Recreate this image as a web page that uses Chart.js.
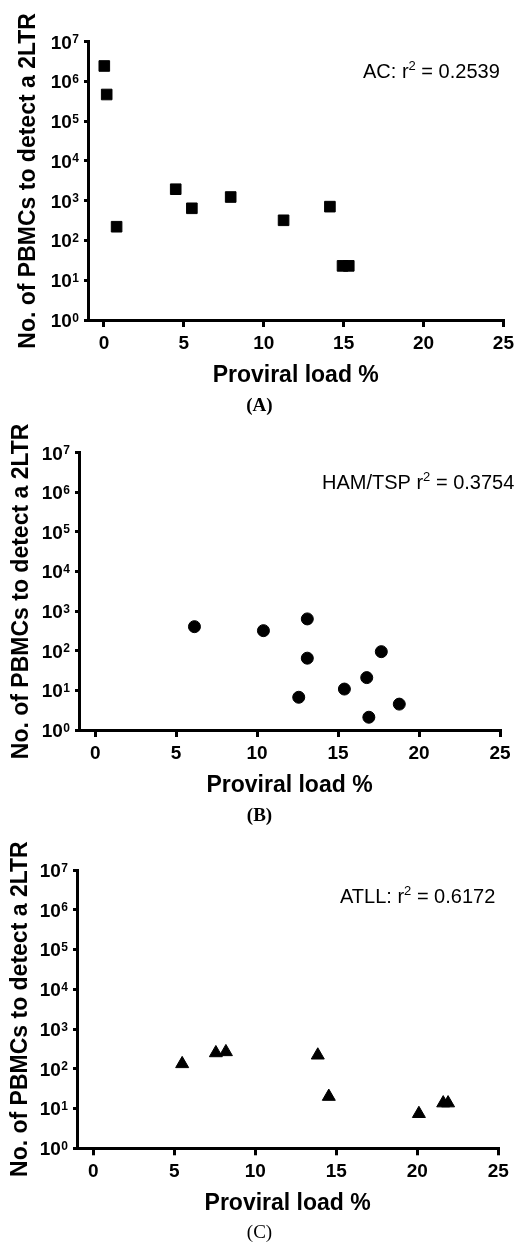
<!DOCTYPE html>
<html>
<head>
<meta charset="utf-8">
<script src="https://cdn.jsdelivr.net/npm/chart.js@4"></script>
<style>
  body { margin: 0; background: #fff; width: 519px; height: 1243px; position: relative; overflow: hidden; }
  .panel { position: absolute; left: 0; width: 519px; height: 415px; }
  .cap { position: absolute; left: 0; width: 519px; text-align: center; font-family: 'Liberation Serif', 'Times New Roman', serif; font-size: 19px; color: #000; }
</style>
</head>
<body>
<div class="panel" style="top:0"><canvas id="chartA" width="519" height="415"></canvas></div>
<div class="panel" style="top:410px"><canvas id="chartB" width="519" height="415"></canvas></div>
<div class="panel" style="top:828px"><canvas id="chartC" width="519" height="415"></canvas></div>
<div class="cap" style="top:394px;font-weight:bold">(A)</div>
<div class="cap" style="top:804px;font-weight:bold">(B)</div>
<div class="cap" style="top:1221px">(C)</div>
<script>
// data
const acLoad = [0.02, 0.17, 0.79, 4.49, 5.5, 7.93, 11.24, 14.14, 14.93, 15.32];
const acPbmc = [2450000, 470000, 222, 1950, 645, 1240, 322, 710, 23, 23];

const hamLoad = [6.13, 10.39, 13.1, 13.1, 17.67, 16.77, 15.39, 12.57, 18.78, 16.9];
const hamPbmc = [406, 322, 637, 65, 95, 21, 10.8, 6.7, 4.5, 2.1];

const atllLoad = [5.49, 7.57, 8.19, 13.86, 14.54, 20.1, 21.6, 21.9];
const atllPbmc = [133, 250, 266, 219, 20, 7.4, 13.7, 13.7];

const xTicks = [0, 5, 10, 15, 20, 25];
const yTicks = [1, 10, 100, 1000, 10000, 100000, 1000000, 10000000];

const SANS = "'Liberation Sans', Arial, sans-serif";

// 10^n labels on the log axis, drawn at the scale's own tick positions
const powerLabels = {
    id: 'powerLabels',
    afterDraw(chart) {
        const ctx = chart.ctx;
        const s = chart.scales.y;
        ctx.save();
        ctx.fillStyle = '#000';
        ctx.textBaseline = 'alphabetic';
        s.ticks.forEach(t => {
            const y = s.getPixelForValue(t.value);
            const exp = String(Math.round(Math.log10(t.value)));
            ctx.font = 'bold 12px ' + SANS;
            ctx.textAlign = 'right';
            const right = s.right - 9;
            ctx.fillText(exp, right, y + 1.5);
            const w = ctx.measureText(exp).width;
            ctx.font = 'bold 19px ' + SANS;
            ctx.fillText('10', right - w - 0.5, y + 6.8);
        });
        ctx.restore();
    }
};

// r² note in the top right corner
const notePlugin = {
    id: 'note',
    afterDraw(chart, args, opts) {
        const ctx = chart.ctx;
        ctx.save();
        ctx.fillStyle = '#000';
        ctx.textBaseline = 'alphabetic';
        ctx.font = '20px ' + SANS;
        let x = opts.x;
        const y = chart.chartArea.top + opts.dy;
        const head = opts.label + ' r';
        ctx.fillText(head, x, y);
        x += ctx.measureText(head).width;
        ctx.font = '13px ' + SANS;
        ctx.fillText('2', x, y - 8);
        x += ctx.measureText('2').width;
        ctx.font = '20px ' + SANS;
        ctx.fillText(' = ' + opts.value, x, y);
        ctx.restore();
    }
};

function makeChart(id, xs, ys, style, radius, box, note) {
    const pts = xs.map((v, i) => ({x: v, y: ys[i]}));
    return new Chart(document.getElementById(id), {
        type: 'scatter',
        data: {
            datasets: [{
                data: pts,
                pointStyle: style,
                pointRadius: radius,
                pointHoverRadius: radius,
                backgroundColor: '#000',
                borderColor: '#000',
                borderWidth: 1
            }]
        },
        options: {
            responsive: false,
            animation: false,
            layout: {
                padding: {left: 0, top: box.top, right: 519 - box.right, bottom: 0}
            },
            scales: {
                x: {
                    type: 'linear',
                    min: -1,
                    max: 25,
                    afterBuildTicks: s => { s.ticks = xTicks.map(v => ({value: v})); },
                    afterFit: s => { s.height = 415 - box.bottom; },
                    grid: {drawOnChartArea: false, drawTicks: true, tickLength: 7, lineWidth: 3, color: '#000'},
                    border: {display: true, width: 3, color: '#000'},
                    ticks: {color: '#000', padding: 5, font: {family: SANS, size: 19, weight: 'bold'}, maxRotation: 0},
                    title: {
                        display: true,
                        text: 'Proviral load %',
                        color: '#000',
                        font: {family: SANS, size: 23, weight: 'bold'},
                        padding: {top: 0, bottom: 26}
                    }
                },
                y: {
                    type: 'logarithmic',
                    min: 1,
                    max: 10000000,
                    afterBuildTicks: s => { s.ticks = yTicks.map(v => ({value: v})); },
                    afterFit: s => { s.width = box.left; },
                    grid: {drawOnChartArea: false, drawTicks: true, tickLength: 4, lineWidth: 3, color: '#000'},
                    border: {display: true, width: 3, color: '#000'},
                    ticks: {display: false},
                    title: {
                        display: true,
                        text: 'No. of PBMCs to detect a 2LTR',
                        color: '#000',
                        font: {family: SANS, size: 23, weight: 'bold'},
                        padding: {top: box.titleX - 13.8, bottom: 0}
                    }
                }
            },
            plugins: {
                legend: {display: false},
                tooltip: {enabled: false},
                note: note
            }
        },
        plugins: [powerLabels, notePlugin]
    });
}

makeChart('chartA', acLoad, acPbmc, 'rect', 7.5,
    {left: 88, right: 507, top: 41.7, bottom: 320, titleX: 29},
    {label: 'AC:', value: '0.2539', x: 363, dy: 36});
makeChart('chartB', hamLoad, hamPbmc, 'circle', 6,
    {left: 79, right: 500, top: 42.7, bottom: 320, titleX: 22},
    {label: 'HAM/TSP', value: '0.3754', x: 322, dy: 36});
makeChart('chartC', atllLoad, atllPbmc, 'triangle', 7.5,
    {left: 77, right: 498.3, top: 42, bottom: 320.3, titleX: 21},
    {label: 'ATLL:', value: '0.6172', x: 340, dy: 33});
</script>
</body>
</html>
